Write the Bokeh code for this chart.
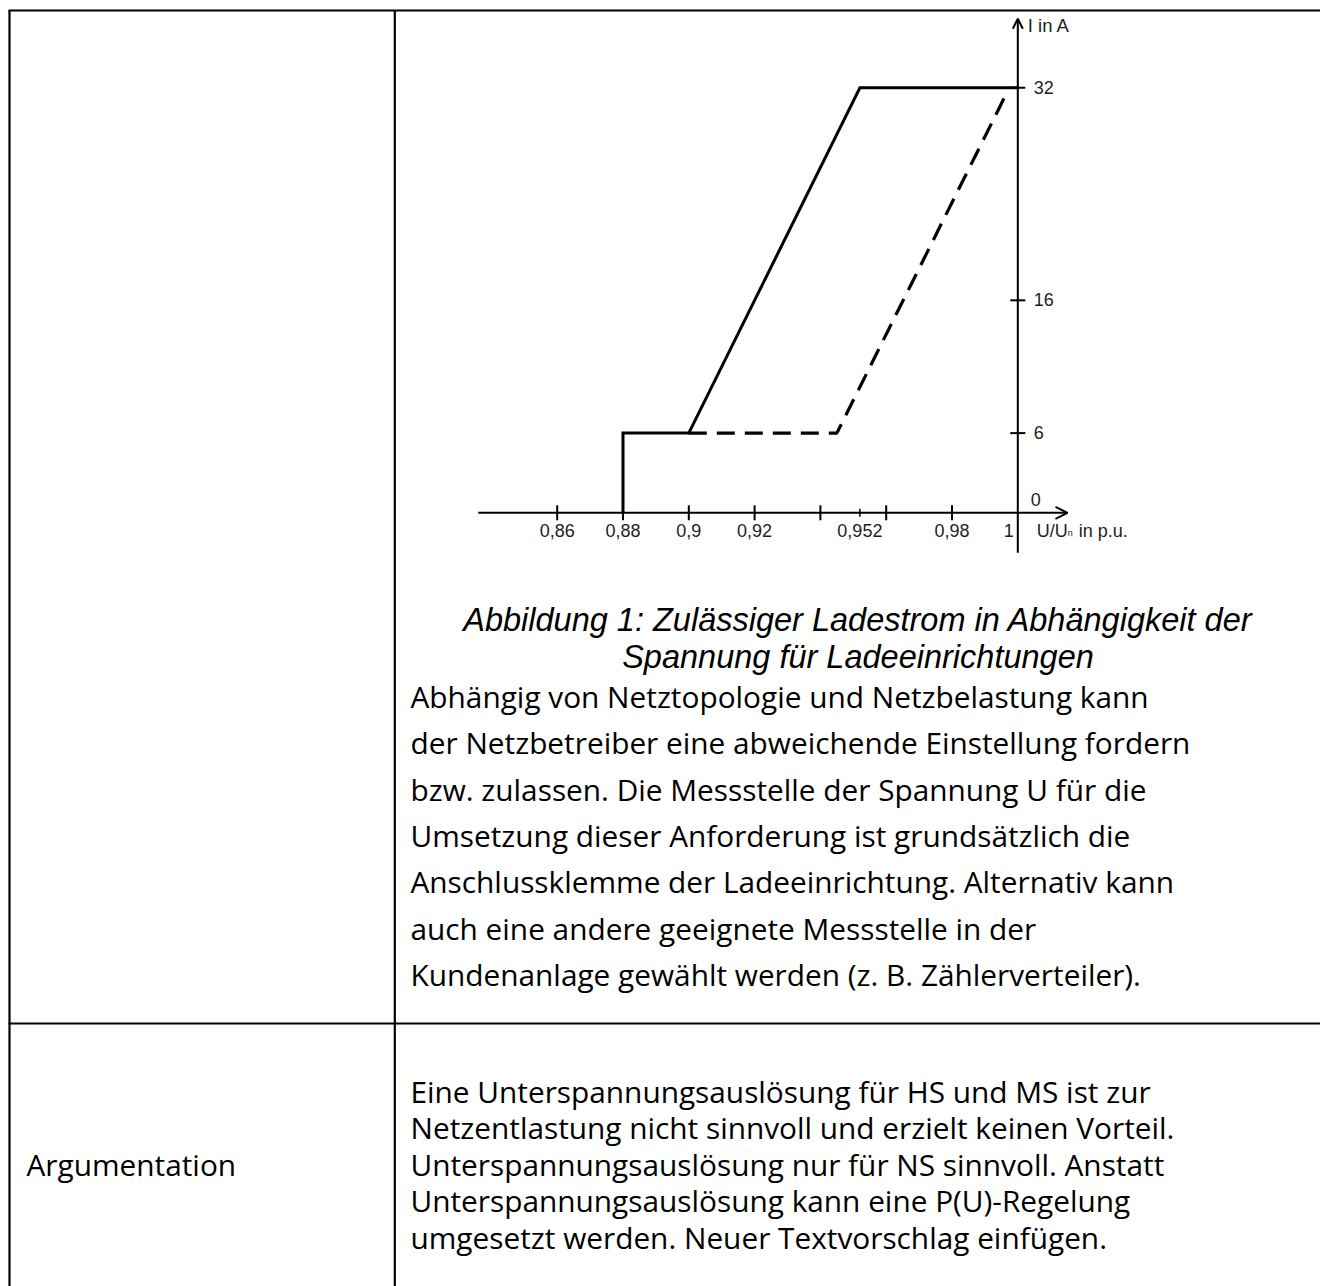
from bokeh.plotting import figure
from bokeh.models import Range1d, Arrow, OpenHead
from bokeh.core.properties import value
from bokeh.embed import file_html
from bokeh.resources import INLINE

# ---------------- chart data ----------------
solid_u = [0.88, 0.88, 0.90, 0.952, 1.00]
solid_i = [0, 6, 6, 32, 32]
dashed_u = [0.90, 0.945, 0.996]
dashed_i = [6, 6, 31.3]

x_major_ticks = [0.86, 0.88, 0.90, 0.92, 0.94, 0.96, 0.98]
x_minor_ticks = [0.952]
x_label_pos = [0.86, 0.88, 0.90, 0.92, 0.952, 0.98]
x_label_text = ["0,86", "0,88", "0,9", "0,92", "0,952", "0,98"]
y_ticks = [6, 16, 32]
y_label_text = ["6", "16", "32"]

caption_lines = [
    "Abbildung 1: Zulässiger Ladestrom in Abhängigkeit der",
    "Spannung für Ladeeinrichtungen",
]
para1_lines = [
    "Abhängig von Netztopologie und Netzbelastung kann",
    "der Netzbetreiber eine abweichende Einstellung fordern",
    "bzw. zulassen. Die Messstelle der Spannung U für die",
    "Umsetzung dieser Anforderung ist grundsätzlich die",
    "Anschlussklemme der Ladeeinrichtung. Alternativ kann",
    "auch eine andere geeignete Messstelle in der",
    "Kundenanlage gewählt werden (z. B. Zählerverteiler).",
]
para2_lines = [
    "Eine Unterspannungsauslösung für HS und MS ist zur",
    "Netzentlastung nicht sinnvoll und erzielt keinen Vorteil.",
    "Unterspannungsauslösung nur für NS sinnvoll. Anstatt",
    "Unterspannungsauslösung kann eine P(U)-Regelung",
    "umgesetzt werden. Neuer Textvorschlag einfügen.",
]
row_label = "Argumentation"

# ---------------- layout ----------------
W, H = 1320, 1286
U1_PX, U_SCALE = 1017.3, 3290.0   # x pixel of U/Un = 1, px per p.u.
I0_PY, I_SCALE = 512.3, 13.28     # y pixel of I = 0, px per A

p = figure(width=W, height=H, output_backend="svg", toolbar_location=None,
           x_axis_type=None, y_axis_type=None,
           x_range=Range1d(0, W), y_range=Range1d(H, 0),
           min_border=0, outline_line_color=None,
           background_fill_color="white", border_fill_color="white")
p.grid.visible = False

p.extra_x_ranges = {"u": Range1d(1 - U1_PX / U_SCALE, 1 + (W - U1_PX) / U_SCALE)}
p.extra_y_ranges = {"i": Range1d((I0_PY - H) / I_SCALE, I0_PY / I_SCALE)}

# table lines (pixel coords)
p.segment(x0=[8, 8, 9, 394.3], y0=[10, 1023, 10, 10],
          x1=[W, W, 9, 394.3], y1=[10, 1023, H, H],
          line_width=2.2, line_color="black")

# chart axes
for (xs, ys, xe, ye, sz) in [(0.836, 0, 1.0151, 0, 12), (1.0, -3.0, 1.0, 37.2, 10)]:
    p.add_layout(Arrow(end=OpenHead(size=sz, line_width=2, line_color="black"),
                       x_start=xs, y_start=ys, x_end=xe, y_end=ye,
                       x_range_name="u", y_range_name="i",
                       line_width=2, line_color="black"))

p.scatter(x=x_major_ticks, y=[0] * len(x_major_ticks), marker="dash", angle=1.5708,
          size=15, line_width=2, line_color="black", x_range_name="u", y_range_name="i")
p.scatter(x=x_minor_ticks, y=[0], marker="dash", angle=1.5708,
          size=8, line_width=1.5, line_color="black", x_range_name="u", y_range_name="i")
p.scatter(x=[1.0] * len(y_ticks), y=y_ticks, marker="dash",
          size=15, line_width=2, line_color="black", x_range_name="u", y_range_name="i")

# curves
p.line(solid_u, solid_i, line_width=3, line_color="black",
       x_range_name="u", y_range_name="i", line_join="miter")
p.line(dashed_u, dashed_i, line_width=3.2, line_color="black", line_dash="18 10",
       x_range_name="u", y_range_name="i")

lab_font = value("Liberation Sans")
lab_size = value("18px")
lab_col = "#1e1e1e"
p.text(x=x_label_pos, y=[0] * len(x_label_pos), text=x_label_text,
       x_range_name="u", y_range_name="i", text_font=lab_font, text_font_size=lab_size,
       text_align="center", text_baseline="alphabetic", y_offset=17.7, text_color=lab_col)
p.text(x=[1.0], y=[0], text=["1"], x_range_name="u", y_range_name="i",
       text_font=lab_font, text_font_size=lab_size, text_align="right",
       text_baseline="alphabetic", x_offset=-4, y_offset=17.7, text_color=lab_col)
p.text(x=[1.0] * len(y_ticks), y=y_ticks, text=y_label_text, x_range_name="u", y_range_name="i",
       text_font=lab_font, text_font_size=lab_size, text_align="left",
       text_baseline="alphabetic", x_offset=16, y_offset=-0.5, text_color=lab_col)
p.text(x=[1.0], y=[0], text=["0"], x_range_name="u", y_range_name="i",
       text_font=lab_font, text_font_size=lab_size, text_align="left",
       text_baseline="alphabetic", x_offset=13, y_offset=-13.5, text_color=lab_col)
p.text(x=[1.0], y=[37.2], text=["I in A"], x_range_name="u", y_range_name="i",
       text_font=lab_font, text_font_size=value("18.5px"), text_align="left",
       text_baseline="alphabetic", x_offset=10, y_offset=6.5, text_color=lab_col)
p.text(x=[1.0, 1.0], y=[0, 0], text=["U/U", "in p.u."], x_range_name="u", y_range_name="i",
       text_font=lab_font, text_font_size=lab_size, text_align="left",
       text_baseline="alphabetic", x_offset=[19, 61], y_offset=17.7, text_color=lab_col)
p.text(x=[1.0], y=[0], text=["n"], x_range_name="u", y_range_name="i",
       text_font=lab_font, text_font_size=value("9px"), text_align="left",
       text_baseline="alphabetic", x_offset=50, y_offset=20.5, text_color=lab_col)

# caption
p.text(x=[857.5] * 2, y=[619, 656], text=caption_lines,
       text_font=value("Liberation Sans"), text_font_style="italic",
       text_font_size=value("32.5px"), text_align="center", text_baseline="alphabetic",
       text_color="black")

body_font = value("Open Sans")
body_size = value("29.8px")
p1_y = [696 + k * 46.3 for k in range(len(para1_lines))]
p.text(x=[410] * len(para1_lines), y=p1_y, text=para1_lines,
       text_font=body_font, text_font_size=body_size, text_align="left",
       text_baseline="alphabetic", text_color="black")
p2_y = [1091 + k * 36.4 for k in range(len(para2_lines))]
p.text(x=[410] * len(para2_lines), y=p2_y, text=para2_lines,
       text_font=body_font, text_font_size=body_size, text_align="left",
       text_baseline="alphabetic", text_color="black")
p.text(x=[26], y=[p2_y[2]], text=[row_label],
       text_font=body_font, text_font_size=body_size, text_align="left",
       text_baseline="alphabetic", text_color="black")

open("out.html", "w").write(file_html(p, INLINE))
